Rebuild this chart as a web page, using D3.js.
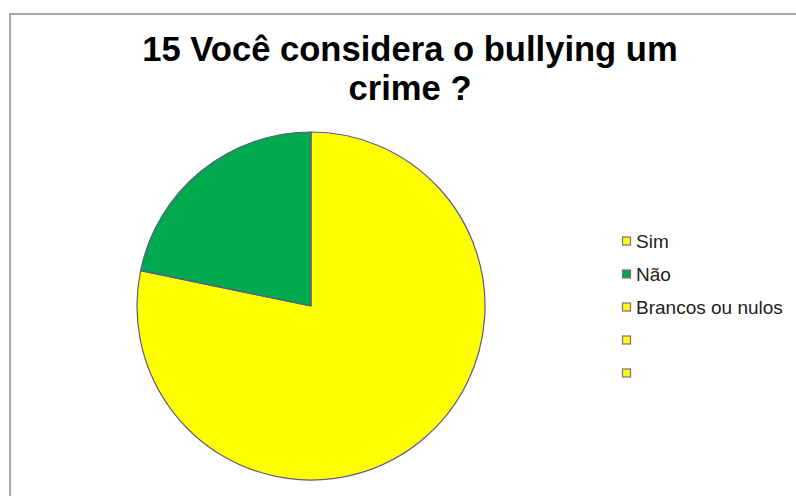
<!DOCTYPE html>
<html>
<head>
<meta charset="utf-8">
<script src="https://d3js.org/d3.v7.min.js"></script>
<style>
  body { margin: 0; background: #fff; }
  svg { display: block; }
</style>
</head>
<body>
<div id="chart"></div>
<script>
// chart data
var titleLines = ["15 Você considera o bullying um", "crime ?"];
var categories = ["Sim", "Não", "Brancos ou nulos", "", ""];
var values = [36, 10, 0, 0, 0];
var colors = ["#ffff00", "#00a84e", "#ffff00", "#ffff00", "#ffff00"];

var width = 796, height = 496;
var svg = d3.select("#chart").append("svg")
    .attr("width", width)
    .attr("height", height);

// chart frame (runs off the right and bottom edges)
svg.append("rect")
    .attr("x", 10).attr("y", 14)
    .attr("width", 820).attr("height", 520)
    .attr("fill", "#fff")
    .attr("stroke", "#a6a6a6")
    .attr("stroke-width", 2);

// title
svg.append("g").selectAll("text")
    .data(titleLines)
    .join("text")
    .attr("x", 410)
    .attr("y", function (d, i) { return 61 + i * 39; })
    .attr("text-anchor", "middle")
    .style("font-family", "'Liberation Sans', Arial, sans-serif")
    .style("font-weight", "bold")
    .style("font-size", "34.6px")
    .attr("fill", "#000")
    .text(function (d) { return d; });

// pie
var data = categories.map(function (c, i) { return { name: c, value: values[i], color: colors[i] }; });
var radius = 174;
var pie = d3.pie().sort(null).value(function (d) { return d.value; });
var arc = d3.arc().innerRadius(0).outerRadius(radius);

var g = svg.append("g").attr("transform", "translate(311,306)");
g.selectAll("path")
    .data(pie(data).filter(function (d) { return d.data.value > 0; }))
    .join("path")
    .attr("d", arc)
    .attr("fill", function (d) { return d.data.color; })
    .attr("stroke", "#5e5a80")
    .attr("stroke-width", 1.2)
    .attr("stroke-linejoin", "round");

// legend
var legend = svg.append("g").attr("transform", "translate(622,241)");
var rows = legend.selectAll("g")
    .data(data)
    .join("g")
    .attr("transform", function (d, i) { return "translate(0," + (i * 33) + ")"; });
rows.append("rect")
    .attr("x", 0.5).attr("y", -4)
    .attr("width", 8).attr("height", 8)
    .attr("fill", function (d) { return d.color; })
    .attr("stroke", "#7a6a9a")
    .attr("stroke-width", 1.2);
rows.append("text")
    .attr("x", 14)
    .attr("y", 6.5)
    .style("font-family", "'Liberation Sans', Arial, sans-serif")
    .style("font-size", "19px")
    .attr("fill", "#222")
    .text(function (d) { return d.name; });
</script>
</body>
</html>
